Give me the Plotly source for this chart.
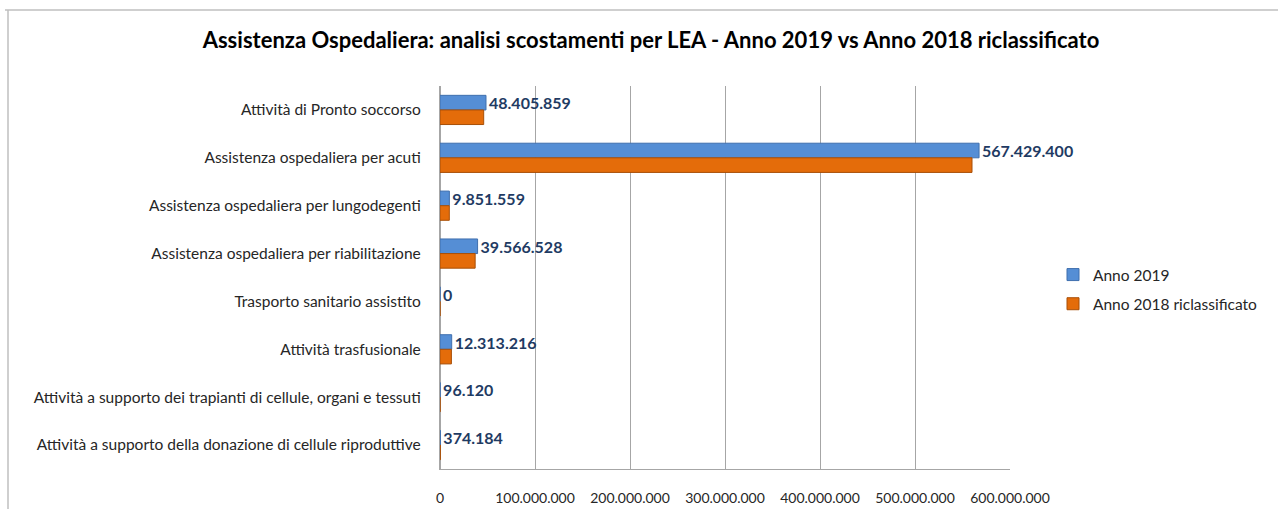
import plotly.graph_objects as go

categories = [
    "Attività di Pronto soccorso",
    "Assistenza ospedaliera per acuti",
    "Assistenza ospedaliera per lungodegenti",
    "Assistenza ospedaliera per riabilitazione",
    "Trasporto sanitario assistito",
    "Attività trasfusionale",
    "Attività a supporto dei trapianti di cellule, organi e tessuti",
    "Attività a supporto della donazione di cellule riproduttive",
]
anno_2019 = [48405859, 567429400, 9851559, 39566528, 0, 12313216, 96120, 374184]
anno_2018 = [46000000, 560000000, 9800000, 37000000, 0, 12000000, 90000, 360000]
x_ticks = [0, 100000000, 200000000, 300000000, 400000000, 500000000, 600000000]


def fmt(v):
    return f"{v:,}".replace(",", ".")


W, H = 1278, 509
L, R, T, B = 440, 268, 86, 40
pw, ph = W - L - R, H - T - B

fig = go.Figure()
fig.add_trace(go.Bar(
    y=categories, x=anno_2019, name="Anno 2019", orientation="h",
    legendgroup="a",
    marker=dict(color="#558ED5", line=dict(color="#3F6FAE", width=1)),
    text=[fmt(v) for v in anno_2019], textposition="outside",
    constraintext="none",
    textfont=dict(family="Lato", size=16, color="#1F3B63", weight="bold"),
    cliponaxis=False,
))
fig.add_trace(go.Bar(
    y=categories, x=anno_2018, name="Anno 2018 riclassificato", orientation="h",
    legendgroup="b",
    marker=dict(color="#E46C0A", line=dict(color="#A84F07", width=1)),
))

fig.update_layout(
    width=W, height=H,
    barmode="group", bargap=0.39, bargroupgap=0,
    separators=",.",
    paper_bgcolor="white", plot_bgcolor="white",
    margin=dict(l=L, r=R, t=T, b=B, autoexpand=False),
    font=dict(family="Lato", size=15, color="#262626"),
    title=dict(
        text="<b>Assistenza Ospedaliera: analisi scostamenti per LEA - Anno 2019 vs Anno 2018 riclassificato</b>",
        x=(651) / W, xanchor="center", y=1 - 40 / H, yanchor="middle",
        font=dict(family="Lato", size=22, color="#000000"),
    ),
    legend=dict(
        x=(1053 - L) / pw, y=1 - (258 - T) / ph, xanchor="left", yanchor="top",
        font=dict(family="Lato", size=15.5, color="#262626"),
        traceorder="grouped", itemwidth=30, tracegroupgap=6,
        bgcolor="rgba(0,0,0,0)",
    ),
    showlegend=True,
)
fig.update_xaxes(
    range=[0, 600000000], tickvals=x_ticks,
    ticktext=[fmt(v) for v in x_ticks],
    showgrid=True, gridcolor="#A6A6A6", gridwidth=1.3,
    zeroline=True, zerolinecolor="#A6A6A6",
    showline=True, linecolor="#A6A6A6", linewidth=1.3, mirror=False,
    ticks="", ticklabelstandoff=16, automargin=False, tickangle=0,
    tickfont=dict(family="Lato", size=14, color="#262626"),
)
fig.update_yaxes(
    autorange="reversed", showgrid=False,
    ticks="", ticklabelstandoff=15, automargin=False,
    showline=True, linecolor="#A6A6A6", linewidth=1.3,
    tickfont=dict(family="Lato", size=15.5, color="#262626"),
)

# outer chart border (top and left edges visible)
fig.add_shape(type="line", xref="paper", yref="paper",
              x0=(5 - L) / pw, x1=(W - L) / pw, y0=1 + (T - 10) / ph, y1=1 + (T - 10) / ph,
              line=dict(color="#BFBFBF", width=1.5))
fig.add_shape(type="line", xref="paper", yref="paper",
              x0=(8 - L) / pw, x1=(8 - L) / pw, y0=1 + (T - 10) / ph, y1=-(B) / ph,
              line=dict(color="#BFBFBF", width=1.5))

fig.write_html("out.html", config={"displayModeBar": False},
               post_script="document.body.style.margin='0';")
